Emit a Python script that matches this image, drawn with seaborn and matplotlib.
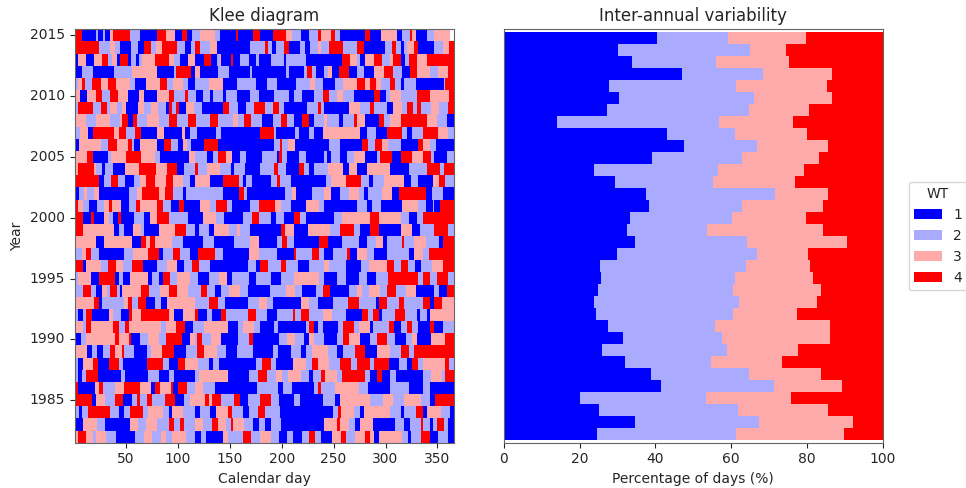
import numpy as np
import pandas as pd
import matplotlib
matplotlib.use("Agg")
import matplotlib.pyplot as plt
from matplotlib.colors import ListedColormap
import seaborn as sns

years = list(range(2015, 1981, -1))
wt_labels = ['1', '2', '3', '4']
wt_colors = ['#0000ff', '#aaaaff', '#ffaaaa', '#ff0000']

# weather type per calendar day, as "first_day:type" change points (0 = no data), 2015 -> 1982
klee_rows = [
    "1:4 8:1 22:2 24:1 28:2 30:1 35:3 38:4 54:2 64:1 80:4 89:3 98:1 104:4 109:1 114:2 117:2 122:3 136:2 141:1 156:4 158:1 173:4 180:1 192:4 205:3 210:2 219:1 227:2 235:4 238:3 241:3 248:4 252:2 257:1 281:4 286:1 296:3 302:3 312:1 316:2 324:4 326:3 330:1 340:2 347:3 363:0",
    "1:4 25:2 35:3 40:2 45:1 55:2 62:1 68:4 75:2 79:3 85:4 100:2 107:1 113:2 117:4 122:2 131:3 138:1 170:2 184:4 187:2 191:1 195:2 203:4 208:1 218:2 223:1 228:2 235:3 238:2 246:4 260:2 273:4 280:1 300:2 307:4 311:2 315:1 318:2 321:3 328:4 332:1 347:2 356:3 362:4",
    "1:1 4:3 12:1 20:3 27:4 33:2 37:3 42:1 45:4 52:1 55:2 60:1 63:2 66:3 78:4 92:3 97:2 103:1 110:3 117:1 126:4 132:1 138:2 141:3 142:1 152:4 154:1 160:2 169:1 176:2 179:1 190:2 203:1 205:2 224:1 241:1 259:4 266:3 273:2 276:1 281:3 289:4 297:2 305:3 308:4 315:1 319:2 323:4 331:3 340:4",
    "1:1 8:2 19:1 39:2 56:3 80:1 97:2 99:4 113:1 117:3 122:1 139:2 150:1 170:2 172:1 205:2 208:1 222:2 225:4 230:2 234:1 241:2 245:3 249:1 256:4 265:1 273:2 280:1 289:3 299:4 308:2 316:1 324:4 331:3 343:2 351:3 361:4",
    "1:2 4:3 8:4 11:2 18:4 26:3 33:4 41:3 54:2 59:1 70:3 83:4 90:2 96:3 105:2 110:1 117:2 130:3 144:1 157:2 176:1 186:2 196:1 214:2 228:3 233:2 240:1 252:2 260:3 273:4 281:3 286:4 291:3 296:2 305:4 310:2 315:1 318:2 330:1 357:2 358:4",
    "1:3 6:1 13:3 22:4 27:2 35:4 43:3 52:1 63:3 68:1 80:3 92:4 97:2 107:4 110:2 118:1 125:2 131:1 134:2 144:1 147:2 157:1 170:2 179:1 193:2 208:1 212:2 220:1 232:2 240:4 246:2 254:3 260:2 270:1 289:4 295:1 301:2 305:3 315:2 331:4 343:3 362:4",
    "1:2 4:4 19:2 26:4 32:2 35:3 42:2 47:3 51:1 62:3 68:2 75:3 81:2 89:1 92:4 95:2 99:4 102:1 108:3 116:2 124:1 144:4 150:2 158:1 166:2 174:4 184:2 192:4 198:2 203:1 225:2 235:4 238:2 241:1 265:3 276:2 286:4 289:2 302:1 308:3 316:2 321:4 327:2 331:4 335:2 344:3 352:2 361:4",
    "1:3 12:2 22:3 35:2 45:3 47:4 52:1 57:4 61:2 71:3 82:2 92:4 100:2 110:4 118:2 131:4 139:2 154:3 158:2 164:4 171:2 182:1 192:2 200:4 206:2 212:1 220:4 227:1 232:2 241:3 244:2 256:1 260:2 270:4 273:3 281:1 294:4 299:2 305:3 315:4 340:3 350:2 360:1",
    "1:2 6:3 14:1 19:4 39:3 44:4 51:2 59:4 65:1 80:3 87:1 104:3 107:1 112:2 119:1 137:2 142:1 180:4 193:2 195:1 213:2 217:1 227:2 232:1 240:3 249:3 276:1 283:2 291:1 302:4 316:2 321:1 326:2 337:4 351:3 361:2",
    "1:1 5:3 19:3 26:2 33:4 42:3 52:4 56:2 58:1 64:3 73:3 80:1 87:4 94:2 101:1 105:3 109:2 113:1 126:4 139:1 193:2 199:4 201:2 207:3 213:1 246:2 257:1 278:4 284:2 290:4 297:3 303:2 315:1 332:4 337:3 343:2 349:1",
    "1:3 13:4 19:1 33:2 36:3 51:4 65:3 78:2 83:1 111:3 117:2 129:1 134:2 139:4 147:3 153:1 160:2 166:1 182:2 196:1 198:4 201:2 206:1 217:2 224:1 241:2 244:1 248:2 257:1 263:2 270:3 281:1 292:2 295:4 307:1 315:4 326:3 337:4 344:2 347:1 360:2",
    "1:3 4:4 20:3 22:2 27:1 30:2 38:1 50:3 63:4 79:3 90:4 100:1 106:2 117:4 120:2 129:3 141:2 152:1 155:2 165:1 180:2 193:4 197:2 205:1 217:4 222:2 227:1 232:2 245:3 260:1 265:3 273:1 283:3 305:1 323:2 340:4 353:2 357:4",
    "1:4 25:1 29:2 36:4 43:2 50:1 58:2 64:3 70:4 78:3 89:4 96:3 105:2 112:1 117:3 131:1 144:4 159:2 163:1 166:2 172:1 190:2 196:4 199:2 209:1 243:2 248:3 262:4 277:2 285:1 288:2 299:3 318:1 325:2 332:1 346:3 352:4 358:2",
    "1:1 5:2 10:3 13:2 20:3 25:1 53:2 61:3 66:4 82:3 88:4 96:2 105:1 108:2 117:2 144:1 159:4 164:2 167:1 204:2 210:3 214:1 230:2 241:3 248:1 257:2 265:3 275:2 280:1 284:2 297:3 307:1 313:4 339:1 345:2 356:1",
    "1:4 4:3 9:2 15:1 23:2 29:3 34:4 37:3 46:1 53:2 60:4 64:3 80:4 86:2 94:1 102:4 106:1 117:1 122:3 131:2 137:4 148:2 153:1 170:2 179:4 194:3 200:2 209:1 224:3 236:2 241:1 273:2 283:1 287:2 296:1 316:3 332:2 339:1 346:2 347:1 353:4",
    "1:4 9:1 17:4 20:1 29:3 34:2 38:1 43:4 46:1 58:2 68:1 74:3 80:4 92:2 103:2 110:1 125:3 137:2 145:1 163:2 172:4 179:2 190:1 195:2 203:1 212:4 218:2 224:1 241:1 251:2 259:3 276:3 286:4 294:3 315:2 323:1 331:2 337:4",
    "1:4 9:3 39:1 44:2 49:1 57:3 65:2 68:1 82:3 98:4 108:2 117:1 121:2 130:1 135:3 150:2 157:3 160:2 170:1 200:4 204:3 212:1 226:3 247:2 257:4 270:2 276:1 286:4 294:1 315:3 326:1 334:2 347:4 361:2",
    "1:3 22:1 29:3 56:1 65:4 70:3 74:4 78:3 95:2 105:1 125:2 135:1 155:2 170:3 179:1 196:2 201:4 206:2 212:1 236:4 245:1 259:2 275:1 283:2 291:3 298:1 302:2 316:4 318:2 328:3 339:2 352:1 356:4",
    "1:2 8:3 12:4 17:2 25:1 49:2 57:3 72:4 82:1 86:2 96:4 103:2 112:1 120:4 136:2 144:1 169:3 179:2 196:1 212:4 214:2 230:4 236:2 241:1 250:2 263:4 266:1 273:3 283:2 289:1 302:2 323:1 328:3 337:2 342:4",
    "1:4 9:1 12:3 26:2 33:4 41:3 48:2 56:4 67:1 80:2 90:3 100:1 106:2 114:4 121:2 131:1 168:2 176:1 180:4 187:2 200:4 205:2 216:1 227:2 241:3 246:2 262:1 277:2 285:3 302:4 309:2 315:4 322:2 329:1 335:2 345:3 356:4",
    "1:2 4:3 17:1 25:4 40:1 44:2 48:1 54:3 72:1 76:2 82:1 86:4 93:2 100:3 112:2 120:1 130:2 140:3 148:1 153:2 169:1 176:2 190:1 200:2 212:3 236:2 241:1 254:2 262:1 275:2 283:1 291:2 303:4 332:2 337:4 343:2 350:4 361:2",
    "1:2 9:4 17:2 22:1 27:3 32:2 35:4 42:2 45:1 47:3 65:4 73:2 83:3 92:4 100:3 110:2 123:4 129:2 136:1 142:2 150:3 160:2 168:1 189:2 205:3 213:2 220:1 234:2 240:4 247:1 265:2 273:3 278:2 285:3 295:2 302:4 311:2 320:3 330:1 347:2 352:1 360:4",
    "1:3 20:4 25:1 27:2 49:3 52:4 56:2 62:4 70:1 78:2 84:1 90:3 117:2 130:4 139:2 146:1 168:2 179:3 186:2 192:1 219:3 227:2 235:1 250:2 264:4 275:2 291:1 294:4 302:2 313:4 318:2 337:4 343:1 347:4 355:3",
    "1:2 4:1 9:2 12:4 18:1 34:3 38:2 46:1 53:4 56:3 65:4 92:3 97:1 105:3 117:4 120:1 129:2 133:1 142:4 147:2 168:4 176:2 186:1 196:2 211:4 213:2 219:4 227:2 240:3 249:2 262:1 278:4 284:2 288:4 294:1 297:2 310:4 319:2 331:1 334:2 340:1 343:3",
    "1:3 9:2 12:4 17:3 38:4 44:2 50:4 53:3 84:2 89:3 99:4 107:1 115:2 126:3 149:1 158:2 163:3 174:2 180:1 193:2 197:1 224:2 227:4 232:1 235:2 240:1 255:2 260:4 270:2 275:3 286:1 288:2 304:4 309:1 315:2 321:4 326:2 332:1 343:4 347:1 356:2",
    "1:1 7:2 12:3 40:4 44:3 53:4 55:1 64:2 72:3 82:2 89:4 104:1 112:3 117:2 119:4 124:2 132:3 142:1 158:2 169:4 173:1 198:2 206:3 213:2 222:1 227:3 232:2 241:1 254:2 260:4 265:3 276:1 286:2 292:4 302:2 310:1 320:2 326:3 331:1 344:3 351:3 358:4",
    "1:3 13:1 18:2 23:1 28:2 35:4 40:3 47:4 49:2 58:1 71:2 75:3 85:4 97:1 108:2 119:4 126:3 138:2 147:1 157:2 173:1 192:2 197:1 209:2 219:1 224:2 230:3 245:2 254:1 260:2 271:4 281:1 292:3 305:2 315:4 323:2 328:4",
    "1:2 4:1 9:3 19:4 24:1 34:4 44:2 48:1 71:4 86:2 92:1 101:4 107:3 120:2 130:1 134:2 140:1 176:2 182:4 190:2 195:1 211:3 224:2 230:4 235:3 246:2 257:4 267:2 273:4 286:2 289:4 304:1 313:2 321:1 326:4 332:2 337:3 350:3 358:4 362:2",
    "1:2 4:1 8:2 12:4 24:1 46:2 50:1 72:2 82:1 92:2 97:1 117:2 121:3 149:1 169:2 178:4 186:2 195:3 201:2 207:3 219:2 227:1 231:2 238:4 242:3 254:2 259:4 281:2 286:1 292:4 297:1 305:2 311:1 337:2 344:3 355:2 358:4",
    "1:4 4:1 21:3 25:4 28:2 40:3 49:4 64:3 75:1 78:4 83:3 90:3 94:4 96:1 101:4 109:2 117:3 125:2 136:1 177:2 197:1 202:2 210:1 232:2 235:4 238:2 252:3 275:2 284:1 305:2 323:1 337:2 343:1",
    "1:4 18:1 22:3 30:2 40:4 48:1 56:2 61:4 64:2 71:4 76:2 88:4 98:1 106:2 112:3 127:4 130:3 133:4 142:2 155:4 160:1 168:2 180:4 190:2 198:1 212:2 218:1 240:2 252:1 257:3 286:2 298:3 308:2 318:3 326:3 335:2 343:1 348:4",
    "1:2 5:1 8:2 14:4 35:2 44:1 49:2 54:4 67:2 72:3 86:2 92:1 95:3 105:2 117:1 122:2 131:1 137:3 149:4 153:2 163:1 169:2 178:4 184:2 199:1 250:2 255:4 258:3 270:2 276:1 280:3 305:2 315:1 318:2 330:4 337:1 340:3 354:2 363:1",
    "1:1 9:3 23:2 30:1 54:3 62:2 70:3 80:2 92:4 97:2 103:4 106:2 117:3 125:2 133:4 139:3 147:2 152:4 154:3 164:2 173:1 179:2 184:1 190:2 200:1 241:3 254:4 257:3 265:2 271:1 276:3 288:1 310:2 318:1 324:2 335:4 337:2 343:1 346:2 350:4 357:2 361:1",
    "1:3 4:4 12:3 19:2 22:3 31:2 41:1 59:2 68:3 76:2 84:3 89:2 95:3 108:2 117:1 123:2 128:1 144:3 149:2 163:4 171:2 180:3 190:2 198:1 206:2 211:1 220:2 227:4 233:2 238:1 249:3 258:4 262:2 271:3 281:4 286:3 289:1 294:3 308:3 316:2 322:1 325:2 335:4 343:1 351:2 361:1",
]

# percentage of days per weather type, 2015 -> 1982
wt1_pct = [40.5, 30.1, 33.7, 46.9, 27.8, 30.4, 27.1, 13.9, 43.0, 47.6, 39.0, 23.9, 29.3, 37.5, 38.3, 33.3, 32.6,
           34.7, 29.8, 25.4, 25.6, 24.9, 23.8, 24.3, 27.6, 31.5, 25.8, 31.9, 38.7, 41.5, 20.2, 25.1, 34.6, 24.5]
wt2_pct = [18.7, 34.9, 22.3, 21.4, 33.6, 35.6, 37.5, 42.8, 18.0, 19.1, 23.8, 32.7, 25.8, 34.2, 24.5, 27.0, 21.1,
           29.6, 36.9, 38.5, 35.4, 35.5, 38.3, 36.1, 28.1, 26.2, 33.0, 22.9, 26.0, 29.9, 33.2, 36.7, 32.7, 36.8]
wt3_pct = [20.6, 9.6, 19.4, 18.2, 23.8, 20.5, 15.9, 19.7, 19.1, 18.8, 20.5, 22.6, 21.7, 13.8, 21.5, 19.5, 30.6,
           26.2, 13.5, 16.9, 20.5, 23.3, 20.5, 16.9, 30.4, 28.4, 18.8, 18.5, 19.0, 18.0, 22.4, 23.8, 25.0, 28.5]
wt4_pct = [20.2, 25.4, 24.6, 13.5, 14.8, 13.5, 19.5, 23.6, 19.9, 14.5, 16.7, 20.8, 23.2, 14.5, 15.7, 20.2, 15.7,
           9.5, 19.8, 19.2, 18.5, 16.3, 17.4, 22.7, 13.9, 13.9, 22.4, 26.7, 16.3, 10.6, 24.2, 14.4, 7.7, 10.2]


def expand(row, n_days=365):
    out = np.full(n_days, np.nan)
    pts = [tuple(int(v) for v in tok.split(':')) for tok in row.split()]
    for k, (start, code) in enumerate(pts):
        end = pts[k + 1][0] if k + 1 < len(pts) else n_days + 1
        out[start - 1:end - 1] = code if code else np.nan
    return out


klee = pd.DataFrame([expand(r) for r in klee_rows], index=years, columns=range(1, 366))

sns.set_style('ticks')
fig = plt.figure(figsize=(9.66, 4.88), dpi=100)
ax1 = fig.add_axes([0.0772, 0.0928, 0.3923, 0.8472])
ax2 = fig.add_axes([0.5217, 0.0928, 0.3920, 0.8472])

# Klee diagram
sns.heatmap(klee, ax=ax1, cmap=ListedColormap(wt_colors), vmin=0.5, vmax=4.5, cbar=False)
for s in ax1.spines.values():
    s.set_visible(True)
    s.set_color('#666666')
day_ticks = list(range(50, 351, 50))
ax1.set_xticks([d - 0.5 for d in day_ticks])
ax1.set_xticklabels([str(d) for d in day_ticks], rotation=0)
year_ticks = list(range(1985, 2016, 5))
ax1.set_yticks([2015 - y + 0.5 for y in year_ticks])
ax1.set_yticklabels([str(y) for y in year_ticks], rotation=0)
ax1.set_title('Klee diagram', fontsize=12)
ax1.set_xlabel('Calendar day')
ax1.set_ylabel('Year')

# inter-annual variability
left = np.zeros(len(years))
for pct, col, lab in zip([wt1_pct, wt2_pct, wt3_pct, wt4_pct], wt_colors, wt_labels):
    ax2.barh(years, pct, left=left, height=1.0, color=col, linewidth=0, label=lab)
    left = left + np.array(pct)
ax2.set_xlim(0, 100)
ax2.set_ylim(1981.25, 2015.75)
ax2.set_yticks([])
for s in ax2.spines.values():
    s.set_color('#666666')
ax2.set_title('Inter-annual variability', fontsize=12)
ax2.set_xlabel('Percentage of days (%)')
ax2.legend(title='WT', loc='center left', bbox_to_anchor=(1.05, 0.5))

fig.savefig('out.png', dpi=100)
